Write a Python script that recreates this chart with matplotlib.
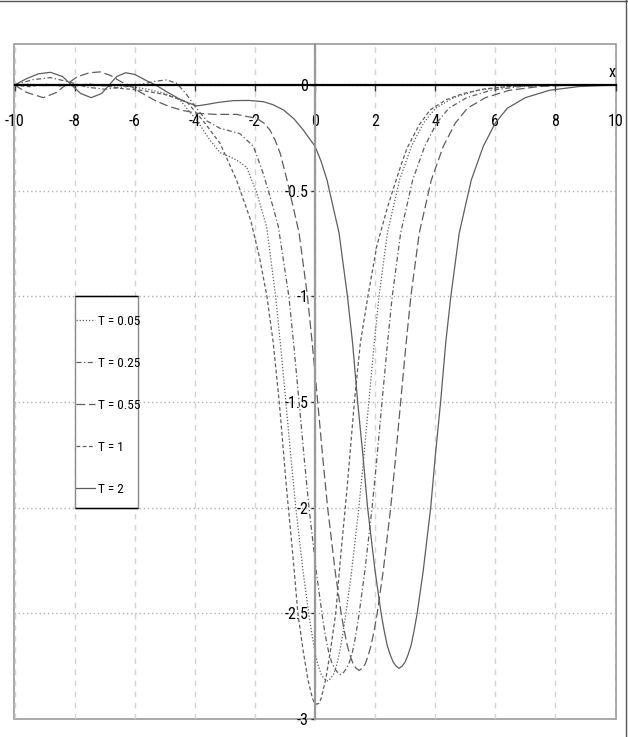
import matplotlib
matplotlib.use("Agg")
import matplotlib.pyplot as plt
from matplotlib.lines import Line2D
from matplotlib.patches import Rectangle

plt.rcParams['font.family'] = ['Liberation Sans Narrow', 'Roboto Condensed', 'Liberation Sans', 'DejaVu Sans']
plt.rcParams['font.stretch'] = 'condensed'
plt.rcParams['axes.unicode_minus'] = False

# curves (x, u)
x_t005 = [-10, -9.5, -9.0, -8.5, -8.0, -7.5, -7.0, -6.5, -6.0, -5.5,
          -5.0, -4.5, -3.94, -3.5, -3.16, -2.83, -2.61, -2.27, -1.94, -1.61,
          -1.31, -1.14, -0.97, -0.79, -0.64, -0.39, -0.19, -0.09, 0.01, 0.11,
          0.21, 0.31, 0.41, 0.51, 0.61, 0.71, 0.81, 0.91, 1.01, 1.21,
          1.46, 1.61, 1.79, 1.96, 2.13, 2.41, 2.81, 3.21, 3.61, 4.01,
          4.61, 5.41, 6.41, 7.5, 10]
y_t005 = [0, 0.004, -0.004, 0.003, -0.004, 0.003, -0.004, -0.003, -0.01, -0.022,
          -0.04, -0.07, -0.166, -0.26, -0.32, -0.34, -0.355, -0.39, -0.51, -0.67,
          -1.0, -1.24, -1.5, -1.78, -2.0, -2.31, -2.52, -2.61, -2.69, -2.75,
          -2.79, -2.81, -2.82, -2.81, -2.79, -2.75, -2.69, -2.61, -2.52, -2.31,
          -2.0, -1.78, -1.5, -1.24, -1.0, -0.70, -0.45, -0.29, -0.18, -0.11,
          -0.06, -0.025, -0.007, -0.001, 0]

x_t025 = [-10, -9.4, -8.8, -8.2, -7.6, -7.0, -6.4, -5.9, -5.3, -4.94,
          -4.6, -4.3, -4.0, -3.6, -3.16, -2.5, -2.05, -1.72, -1.39, -1.22,
          -0.87, -0.70, -0.53, -0.35, -0.20, 0.05, 0.25, 0.35, 0.45, 0.55,
          0.65, 0.75, 0.85, 0.95, 1.05, 1.15, 1.25, 1.35, 1.45, 1.65,
          1.90, 2.05, 2.23, 2.40, 2.57, 2.85, 3.25, 3.65, 4.05, 4.45,
          5.05, 5.85, 6.85, 8.0, 10]
y_t025 = [0, 0.025, 0.035, 0.015, -0.01, -0.02, -0.01, 0.0, 0.018, 0.024,
          0.008, -0.04, -0.10, -0.17, -0.205, -0.23, -0.29, -0.42, -0.58, -0.67,
          -1.0, -1.24, -1.5, -1.78, -2.0, -2.31, -2.52, -2.61, -2.68, -2.73,
          -2.76, -2.78, -2.79, -2.78, -2.76, -2.73, -2.68, -2.61, -2.52, -2.31,
          -2.0, -1.78, -1.5, -1.24, -1.0, -0.70, -0.45, -0.29, -0.18, -0.11,
          -0.06, -0.025, -0.007, -0.001, 0]

x_t055 = [-10, -9.6, -9.04, -8.6, -8.3, -7.9, -7.5, -7.15, -6.8, -6.45,
          -6.2, -5.8, -5.3, -4.83, -4.4, -3.94, -3.3, -2.61, -1.94, -1.7,
          -1.5, -1.33, -1.16, -0.93, -0.53, -0.25, -0.08, 0.09, 0.27, 0.42,
          0.67, 0.87, 0.97, 1.07, 1.17, 1.27, 1.37, 1.47, 1.57, 1.67,
          1.77, 1.87, 1.97, 2.07, 2.27, 2.52, 2.67, 2.85, 3.02, 3.19,
          3.47, 3.87, 4.27, 4.67, 5.07, 5.67, 6.47, 7.47, 8.5, 10]
y_t055 = [0, -0.035, -0.06, -0.035, 0.0, 0.04, 0.058, 0.062, 0.045, 0.015,
          0.0, -0.035, -0.075, -0.103, -0.12, -0.134, -0.139, -0.139, -0.158, -0.18,
          -0.213, -0.26, -0.323, -0.45, -0.70, -1.0, -1.24, -1.5, -1.78, -2.0,
          -2.30, -2.50, -2.58, -2.65, -2.70, -2.74, -2.76, -2.77, -2.76, -2.74,
          -2.70, -2.65, -2.58, -2.50, -2.30, -2.0, -1.78, -1.5, -1.24, -1.0,
          -0.70, -0.45, -0.29, -0.18, -0.11, -0.06, -0.025, -0.007, -0.001, 0]

x_t1 = [-10, -9.5, -9.0, -8.5, -8.0, -7.5, -7.0, -6.49, -5.82, -5.0,
        -4.27, -3.72, -3.16, -2.61, -2.14, -1.84, -1.60, -1.39, -1.19, -0.94,
        -0.74, -0.57, -0.39, -0.24, -0.09, -0.015, 0.06, 0.135, 0.21, 0.36,
        0.51, 0.69, 0.86, 1.06, 1.31, 1.51, 1.76, 2.06, 2.41, 2.61,
        2.86, 3.06, 3.46, 3.83, 4.36, 4.94, 5.66, 6.56, 7.56, 10]
y_t1 = [0, -0.008, 0.004, -0.004, 0.0, 0.004, -0.004, -0.016, -0.024, -0.045,
        -0.079, -0.17, -0.276, -0.45, -0.64, -0.82, -1.0, -1.22, -1.5, -1.92,
        -2.22, -2.50, -2.68, -2.81, -2.90, -2.925, -2.93, -2.925, -2.90, -2.81,
        -2.68, -2.50, -2.22, -1.92, -1.50, -1.22, -1.0, -0.76, -0.58, -0.49,
        -0.38, -0.30, -0.19, -0.118, -0.07, -0.04, -0.018, -0.006, -0.001, 0]

x_t2 = [-10, -9.6, -9.2, -8.8, -8.4, -8.1, -7.8, -7.45, -7.1, -6.85,
        -6.6, -6.3, -6.0, -5.6, -5.3, -4.9, -4.4, -3.94, -3.6, -3.2,
        -2.72, -2.2, -1.72, -1.4, -1.05, -0.7, -0.39, 0.0, 0.2, 0.4,
        0.8, 1.08, 1.25, 1.42, 1.6, 1.75, 2.0, 2.2, 2.3, 2.4,
        2.5, 2.6, 2.7, 2.8, 2.9, 3.0, 3.1, 3.2, 3.3, 3.4,
        3.6, 3.85, 4.0, 4.18, 4.35, 4.52, 4.8, 5.2, 5.6, 6.0,
        6.4, 7.0, 7.8, 8.8, 10]
y_t2 = [0, 0.03, 0.053, 0.06, 0.04, 0.0, -0.04, -0.06, -0.04, 0.0,
        0.04, 0.058, 0.05, 0.02, 0.0, -0.035, -0.075, -0.099, -0.092, -0.082,
        -0.074, -0.073, -0.079, -0.093, -0.118, -0.16, -0.213, -0.29, -0.36, -0.45,
        -0.70, -1.0, -1.22, -1.5, -1.76, -2.0, -2.30, -2.50, -2.58, -2.65,
        -2.695, -2.73, -2.75, -2.76, -2.75, -2.73, -2.695, -2.65, -2.58, -2.50,
        -2.30, -2.0, -1.76, -1.5, -1.22, -1.0, -0.70, -0.45, -0.29, -0.18,
        -0.11, -0.06, -0.025, -0.007, 0]

labels = ["T = 0.05", "T = 0.25", "T = 0.55", "T = 1", "T = 2"]
x_ticks = [-10, -8, -6, -4, -2, 0, 2, 4, 6, 8, 10]
y_ticks = [0, -0.5, -1, -1.5, -2, -2.5, -3]
y_tick_labels = ["0", "-0.5", "-1", "-1.5", "-2", "-2.5", "-3"]

styles = [(0, (1, 1.5)), (0, (4, 2, 1, 2)), (0, (7, 3)), (0, (3, 2)), "-"]
curves = [(x_t005, y_t005), (x_t025, y_t025), (x_t055, y_t055), (x_t1, y_t1), (x_t2, y_t2)]

fig = plt.figure(figsize=(6.28, 7.37), dpi=100)
ax = fig.add_axes([14.5 / 628, 1 - 719 / 737, 601 / 628, 675 / 737])

for (xs, ys), lab, ls in zip(curves, labels, styles):
    ax.plot(xs, ys, color="#5e5e5e", lw=0.9, linestyle=ls, label=lab)

ax.set_xlim(-10, 10)
ax.set_ylim(-3, 0.194)

# axes through the origin, box around the plot area
ax.spines["top"].set_visible(False)
ax.spines["right"].set_visible(False)
ax.spines["bottom"].set_position(("data", 0))
ax.spines["bottom"].set_color("black")
ax.spines["bottom"].set_linewidth(1.6)
ax.spines["left"].set_position(("data", 0))
ax.spines["left"].set_color("#9a9a9a")
ax.spines["left"].set_linewidth(1.6)
ax.patch.set_edgecolor("#9a9a9a")
ax.patch.set_linewidth(1.2)

ax.set_xticks(x_ticks)
ax.set_xticklabels([str(v) for v in x_ticks])
ax.set_yticks(y_ticks)
ax.set_yticklabels(y_tick_labels)
ax.tick_params(axis="x", direction="out", length=4.5, width=1, color="#333333", pad=16.5, labelsize=11.5)
ax.tick_params(axis="y", direction="out", length=3, width=1, color="#333333", pad=2, labelsize=11.5)

ax.set_axisbelow(True)
ax.grid(axis="x", color="#d4d4d4", linestyle=(0, (4, 4)), lw=1)
ax.grid(axis="y", color="#b0b0b0", linestyle=(0, (1, 2)), lw=1)

ax.text(9.89, 0.057, "x", ha="center", va="center", fontsize=11.5)

# legend box spans x -8..-5.9, u -1..-2 like the original
box_w = 2.1
ax.add_patch(Rectangle((-8, -2), box_w, 1, facecolor="white", edgecolor="#8a8a8a", lw=1, zorder=3))
ax.hlines([-1, -2], -8, -8 + box_w, colors="black", lw=1, zorder=3.1)
leg = ax.legend(loc="center", bbox_to_anchor=(-8 + box_w / 2 + 0.06, -1.515), bbox_transform=ax.transData,
                frameon=False, fontsize=9.5, handlelength=1.45, handletextpad=0.2,
                labelspacing=2.2, borderpad=0, borderaxespad=0)
leg.set_zorder(4)

# thin frame on the right and top of the picture
fig.add_artist(Line2D([0.9975, 0.9975], [0, 1], transform=fig.transFigure, color="#555555", lw=1))
fig.add_artist(Line2D([0, 1], [0.9993, 0.9993], transform=fig.transFigure, color="#555555", lw=1))

fig.savefig("out.png", dpi=100)
